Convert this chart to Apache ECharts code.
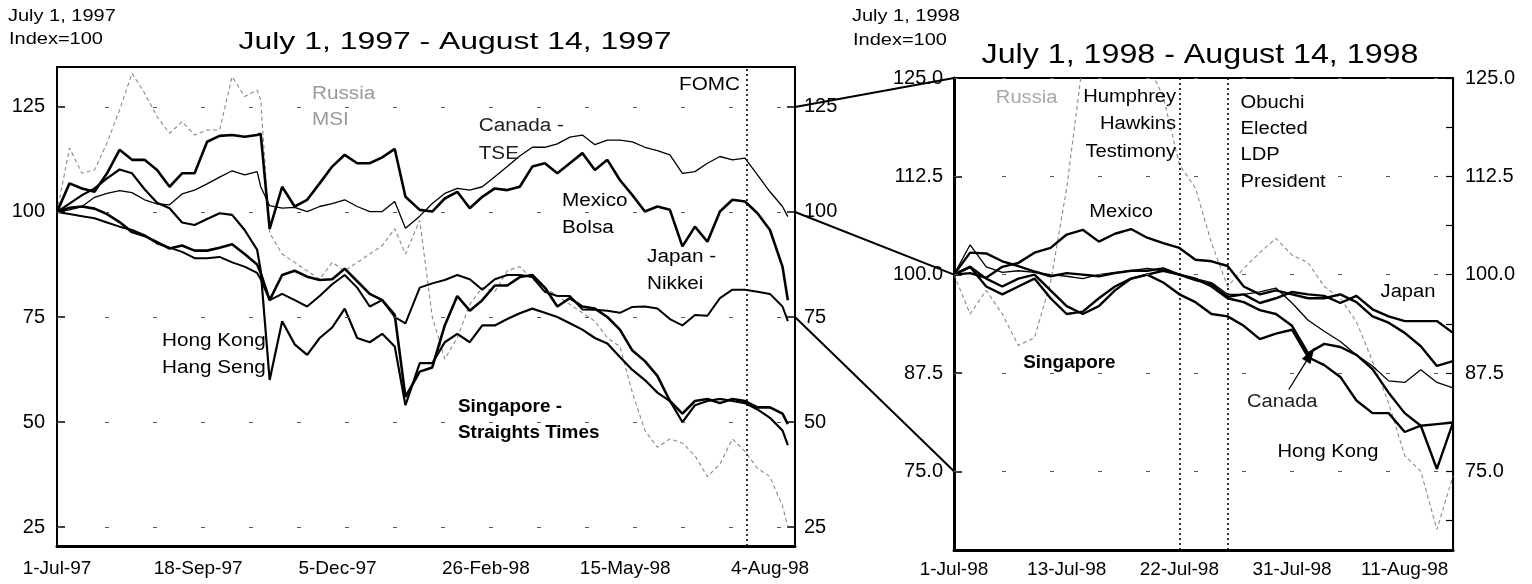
<!DOCTYPE html>
<html><head><meta charset="utf-8">
<script src="https://cdn.jsdelivr.net/npm/echarts@6/dist/echarts.min.js"></script>
<style>html,body{margin:0;padding:0;background:#fff}#c{width:1532px;height:584px}</style>
</head><body><div id="c"></div>
<script>
// ---------------- DATA ----------------
// Left panel: July 1, 1997 = 100, sampled weekly
const leftDates = ['1997-07-01','1997-07-08','1997-07-15','1997-07-22','1997-07-29','1997-08-05','1997-08-12','1997-08-19','1997-08-26','1997-09-02','1997-09-09','1997-09-16','1997-09-23','1997-09-30','1997-10-07','1997-10-14','1997-10-21','1997-10-23','1997-10-28','1997-11-04','1997-11-11','1997-11-18','1997-11-25','1997-12-02','1997-12-09','1997-12-16','1997-12-23','1997-12-30','1998-01-06','1998-01-12','1998-01-20','1998-01-27','1998-02-03','1998-02-10','1998-02-17','1998-02-24','1998-03-03','1998-03-10','1998-03-17','1998-03-24','1998-03-31','1998-04-07','1998-04-14','1998-04-21','1998-04-28','1998-05-05','1998-05-12','1998-05-19','1998-05-26','1998-06-02','1998-06-09','1998-06-16','1998-06-23','1998-06-30','1998-07-07','1998-07-14','1998-07-21','1998-07-28','1998-08-04','1998-08-11','1998-08-14'];
const mexico97 = [100,106.8,105.6,104.8,109.2,114.8,112.4,112.4,110,106,109.2,109.2,116.7,118.1,118.3,117.9,118.3,118.6,96,106,101.3,102.9,106.8,110.8,113.6,111.6,111.6,113,115,103.6,100.5,100.1,103.2,104.8,100.9,103.6,105.6,105.2,106,110.8,111.6,109.2,111.6,114,110,112.4,107.6,104,100.1,101.3,100.5,91.8,96.5,92.9,100.1,102.9,102.5,99.7,95.7,87,79];
const canada97 = [100,100.5,101.3,103.5,104.4,105.1,104.6,102.9,101.9,101.7,104.3,105.2,106.7,108.3,109.8,108.8,109.6,106,101.5,100.9,101.1,100.1,101.3,102,102.9,101.3,100.1,100.1,102.5,96.1,99,102,104.4,105.6,105.2,106,108.4,110.8,113.3,115.4,115.4,116.2,117.8,118.3,116,117.1,117.1,116.7,115.4,114.6,113.6,109.2,109.6,111.6,113.2,112.4,112.8,108.8,104.8,101.3,98.9];
const hongKong97 = [100,102,104,105.6,108,110.1,109.2,105.4,102.2,100.9,97.5,96.9,98.3,99.7,99.3,95.7,91,86,60,74,68.5,66,70,72.5,77,70,69,71,68,54,64,64,69,71,69,73,73,74.5,75.9,77,76,75,73.5,72,70,68.7,65.5,62.4,60,57,55,50,54,55,55.5,55,54.5,53,51,48,44.5];
const singapore97 = [100,101,101.3,100.8,99.5,97.6,95.2,94.3,92.8,91.3,92,90.8,90.8,91.5,92.3,90,87.5,85.5,79,85,86,84.6,83.8,84,86.5,83.5,80.5,79,75.5,56,62,63,73,80,76.5,79,82.5,82.5,84.5,85,82,77.5,79.5,77.5,77,75,72,67,64.5,61,55,52,55,55.5,54.5,55.5,55,53.5,53.5,52,49.5];
const japan97 = [100,99.5,99,98.5,97.5,96.5,95.7,94.5,92.5,91.5,90.5,89,89,89.3,88,87,85.5,84,79,80.5,79,77.5,80,82.8,85,82,77.5,79,75,73.5,82,83,83.8,85,84,81.5,84,85,85,84.5,81,80,80,76.8,76.7,76.5,76,77.4,77.5,77,74.5,73,75.5,75.3,79.5,81.5,81.5,81,80.5,77.5,74];
const russia97 = [100,115.2,109.2,110,116.4,124.3,133,128.3,122.7,118.7,121.5,118.3,119.5,119.5,132.2,127.5,129,126.7,95,90,88,86,84,88,86,88,90,92,96,90,98,75,65,70,78,82,81,86,87,84,82,80,78,76,74,70,68,57,48,44,46,45,42,37,40,46,43,39,37,30,25];
const leftTickDates = ['1997-07-01','1997-09-18','1997-12-05','1998-02-26','1998-05-15','1998-08-04'];
const leftYTicks = [25,50,75,100,125];
const fomcDate = '1998-07-22';

// Right panel: July 1, 1998 = 100, trading days
const rightDates = ['1-Jul-98','2-Jul-98','6-Jul-98','7-Jul-98','8-Jul-98','9-Jul-98','10-Jul-98','13-Jul-98','14-Jul-98','15-Jul-98','16-Jul-98','17-Jul-98','20-Jul-98','21-Jul-98','22-Jul-98','23-Jul-98','24-Jul-98','27-Jul-98','28-Jul-98','29-Jul-98','30-Jul-98','31-Jul-98','3-Aug-98','4-Aug-98','5-Aug-98','6-Aug-98','7-Aug-98','10-Aug-98','11-Aug-98','12-Aug-98','13-Aug-98','14-Aug-98'];
const russia98 = [100,95,98,95,91,92,99,111,127,130,131,130,127,122.6,114,111,104,98.5,100.8,102.8,104.6,102.5,101.5,98.5,97,94,89,83.7,77,75,67.6,74.4];
const mexico98 = [100,100.2,99.6,101,101.5,102.8,103.4,105.1,105.7,104.2,105.2,105.8,104.7,104,103.4,101.9,101.7,101.1,98.5,97.5,98,97.5,97,97,97.5,96.5,94.7,93.9,92.6,90.9,88.4,89];
const japan98 = [100,102.8,102.7,101.7,101.1,100.4,99.8,100.2,100,99.8,100.2,100.5,100.5,100.8,100,99.3,98.8,97.2,97.5,96.4,97,97.8,97.5,97.3,96.4,97.3,95.6,94.7,94.1,94.1,94.1,92.6];
const singapore98 = [100,101,98.5,97.5,98.5,99.5,97,95,95.3,97,98.5,99.5,100,100.5,100,99.5,98.5,97,96.5,95.5,95,93.5,90,91.2,90.8,89.8,88,85,82.4,80.8,81,81.2];
const canada98 = [100,103.8,101,100.3,100.5,100.3,100,99.8,99.5,100,100.3,100.5,100.8,100.5,100,99.5,99,97.5,97.5,97.8,98.3,96.4,94.2,92.8,91.5,89.8,88.4,86.5,86.3,87.9,86.3,85.6];
const hongKong98 = [100,101,99.5,98.5,99.5,100,98,96,95,96,98,99.5,100,99,97.5,96.5,95,94.7,93.5,91.8,92.5,93,89.5,88.5,87,84,82.4,82.4,80,80.8,75.3,81.2];
const rightTickDates = ['1-Jul-98','13-Jul-98','22-Jul-98','31-Jul-98','11-Aug-98'];
const rightYTicks = [75,87.5,100,112.5,125];
const rightMinorTicks = [68.75,75,81.25,87.5,93.75,100,106.25,112.5,118.75,125];
const eventDates98 = ['22-Jul-98','27-Jul-98'];

// ---------------- HELPERS ----------------
const FONT = '"Liberation Sans", Arial, Helvetica, sans-serif';
const MS = 86400000;
const MON = ['Jan','Feb','Mar','Apr','May','Jun','Jul','Aug','Sep','Oct','Nov','Dec'];
function utc(s){ const p = s.split('-').map(Number); return Date.UTC(p[0], p[1]-1, p[2]); }
const T0 = utc(leftDates[0]);
function dayOf(s){ return Math.round((utc(s) - T0) / MS); }
function fmtDay(d){ const dt = new Date(T0 + d*MS); return dt.getUTCDate() + '-' + MON[dt.getUTCMonth()] + '-' + String(dt.getUTCFullYear()).slice(2); }
function pairs(vals){ return leftDates.map((s,i)=>[dayOf(s), vals[i]]); }
const LEFT_MAX_DAY = dayOf('1998-08-18');

function lineSeries(name, data, xi, yi, width, extra){
  return Object.assign({
    name, type:'line', xAxisIndex:xi, yAxisIndex:yi, data,
    showSymbol:false, symbol:'none', silent:true, clip:true,
    emphasis:{disabled:true},
    lineStyle:{color:'#000', width:width}
  }, extra || {});
}
const dashedGray = {lineStyle:{color:'#8a8a8a', width:1.1, type:[4,3]}, z:1};
const gridLineStyle = {color:'#555', width:1, type:[4,44]};

const chart = echarts.init(document.getElementById('c'), null, {renderer:'canvas'});

const option = {
  animation:false,
  backgroundColor:'#fff',
  textStyle:{fontFamily:FONT},
  grid:[
    {left:57, top:67, width:738, height:479, show:true, borderColor:'#000', borderWidth:2, backgroundColor:'transparent', outerBoundsMode:'none', containLabel:false},
    {left:954, top:78, width:499, height:472, show:true, borderColor:'#000', borderWidth:2, backgroundColor:'transparent', outerBoundsMode:'none', containLabel:false}
  ],
  xAxis:[
    {type:'value', gridIndex:0, min:0, max:LEFT_MAX_DAY,
      axisLine:{show:true, onZero:false, lineStyle:{color:'#000', width:3}},
      axisTick:{show:false}, splitLine:{show:false},
      axisLabel:{customValues:leftTickDates.map(dayOf), formatter:fmtDay, fontSize:19, color:'#000', margin:13, fontFamily:FONT}},
    {type:'category', gridIndex:1, data:rightDates, boundaryGap:false,
      axisLine:{show:true, onZero:false, lineStyle:{color:'#000', width:3}},
      axisTick:{show:false}, splitLine:{show:false},
      axisLabel:{interval:(i,v)=>rightTickDates.indexOf(v) >= 0, fontSize:19, color:'#000', margin:10, fontFamily:FONT}}
  ],
  yAxis:[
    {type:'value', gridIndex:0, position:'left', min:20.5, max:134.5,
      axisLine:{show:true, onZero:false, lineStyle:{color:'#000', width:2}},
      axisTick:{show:true, inside:true, length:8, customValues:leftYTicks, lineStyle:{color:'#000', width:1.5}},
      axisLabel:{customValues:leftYTicks, fontSize:20, color:'#000', margin:12, fontFamily:FONT},
      splitLine:{show:false}},
    {type:'value', gridIndex:0, position:'right', min:20.5, max:134.5,
      axisLine:{show:true, onZero:false, lineStyle:{color:'#000', width:2}},
      axisTick:{show:true, inside:true, length:8, customValues:leftYTicks, lineStyle:{color:'#000', width:1.5}},
      axisLabel:{customValues:leftYTicks, fontSize:20, color:'#000', margin:9, fontFamily:FONT},
      splitLine:{show:false}},
    {type:'value', gridIndex:1, position:'left', min:65, max:125,
      axisLine:{show:true, onZero:false, lineStyle:{color:'#000', width:3}},
      axisTick:{show:true, inside:true, length:8, customValues:rightYTicks, lineStyle:{color:'#000', width:1.5}},
      axisLabel:{customValues:rightYTicks, formatter:v=>Number(v).toFixed(1), fontSize:20, color:'#000', margin:11, fontFamily:FONT},
      splitLine:{show:false}},
    {type:'value', gridIndex:1, position:'right', min:65, max:125,
      axisLine:{show:true, onZero:false, lineStyle:{color:'#000', width:1.2}},
      axisTick:{show:true, inside:true, length:7, customValues:rightMinorTicks, lineStyle:{color:'#000', width:1.2}},
      axisLabel:{customValues:rightYTicks, formatter:v=>Number(v).toFixed(1), fontSize:20, color:'#000', margin:12, fontFamily:FONT},
      splitLine:{show:false}}
  ],
  series:[
    lineSeries('Russia MSI', pairs(russia97), 0, 0, 1.1, Object.assign({}, dashedGray, {
      markLine:{symbol:'none', silent:true, label:{show:false}, lineStyle:gridLineStyle, data:leftYTicks.map(v=>({yAxis:v}))}
    })),
    lineSeries('Canada - TSE', pairs(canada97), 0, 0, 1.3, {z:2}),
    lineSeries('Japan - Nikkei', pairs(japan97), 0, 0, 2, {z:3}),
    lineSeries('Hong Kong Hang Seng', pairs(hongKong97), 0, 0, 2.2, {z:3}),
    lineSeries('Singapore - Straights Times', pairs(singapore97), 0, 0, 2.6, {z:4}),
    lineSeries('Mexico Bolsa', pairs(mexico97), 0, 0, 2.6, {z:4,
      markLine:{symbol:'none', silent:true, label:{show:false}, lineStyle:{color:'#000', width:1.6, type:[2,3]}, data:[{xAxis:dayOf(fomcDate)}]}
    }),
    lineSeries('Russia', russia98, 1, 2, 1.1, Object.assign({}, dashedGray, {
      markLine:{symbol:'none', silent:true, label:{show:false}, lineStyle:gridLineStyle, data:rightYTicks.map(v=>({yAxis:v}))}
    })),
    lineSeries('Canada', canada98, 1, 2, 1.3, {z:2}),
    lineSeries('Japan', japan98, 1, 2, 2.4, {z:3}),
    lineSeries('Singapore', singapore98, 1, 2, 2.4, {z:3}),
    lineSeries('Hong Kong', hongKong98, 1, 2, 2.4, {z:3}),
    lineSeries('Mexico', mexico98, 1, 2, 2.4, {z:4,
      markLine:{symbol:'none', silent:true, label:{show:false}, lineStyle:{color:'#000', width:1.6, type:[2,3]}, data:eventDates98.map(d=>({xAxis:d}))}
    })
  ]
};
chart.setOption(option);

// ---------------- ANNOTATIONS ----------------
function Lp(d, v){ return chart.convertToPixel({xAxisIndex:0, yAxisIndex:0}, [d, v]); }
function Rp(i, v){
  const n = rightDates.length - 1;
  const a = chart.convertToPixel({xAxisIndex:1, yAxisIndex:2}, [0, v]);
  const b = chart.convertToPixel({xAxisIndex:1, yAxisIndex:2}, [n, v]);
  return [a[0] + (b[0]-a[0]) * i / n, a[1]];
}
function txt(p, t, o){
  o = o || {};
  const al = o.al || 'left';
  return {type:'text', x:p[0], y:p[1], scaleX:o.sx || 1.15, silent:true, z:100,
    style:{text:t, fontSize:o.fs || 18, fontFamily:FONT, fontWeight:o.fw || 'normal', fill:o.c || '#000',
      align:al, textAlign:al, verticalAlign:'middle', textVerticalAlign:'middle'}};
}
const G = [];
// titles and corner notes (layout text)
G.push(txt([455, 42], 'July 1, 1997 - August 14, 1997', {fs:24, sx:1.33, al:'center'}));
G.push(txt([1200, 55], 'July 1, 1998 - August 14, 1998', {fs:28, sx:1.15, al:'center'}));
G.push(txt([8, 17], 'July 1, 1997', {fs:16, sx:1.25}));
G.push(txt([9, 40], 'Index=100', {fs:16, sx:1.25}));
G.push(txt([852, 17], 'July 1, 1998', {fs:16, sx:1.25}));
G.push(txt([853, 41], 'Index=100', {fs:16, sx:1.25}));

// left panel labels, anchored in data space (days since 1-Jul-97, index value)
const leftNotes = [
  ['Russia', 142.7, 128.1, '#9a9a9a'], ['MSI', 142.7, 121.9, '#9a9a9a'],
  ['Canada -', 236, 120.5, '#222'], ['TSE', 236, 113.8, '#222'],
  ['Mexico', 282.6, 102.6], ['Bolsa', 282.6, 96.2],
  ['Japan -', 330.2, 89.3], ['Nikkei', 330.2, 82.9],
  ['Hong Kong', 58.8, 69.3], ['Hang Seng', 58.8, 62.9],
  ['Singapore -', 224.4, 53.6, '#000', 'bold'], ['Straights Times', 224.4, 47.4, '#000', 'bold']
];
leftNotes.forEach(n => G.push(txt(Lp(n[1], n[2]), n[0], {c:n[3], fw:n[4], sx:n[4] ? 1.05 : 1.15})));
G.push(txt(Lp(382.2, 130.2), 'FOMC', {al:'right'}));

// right panel labels (trading-day index, index value)
const rightNotes = [
  ['Russia', 2.6, 122.5, 'left', '#a8a8a8'],
  ['Humphrey', 13.8, 122.6, 'right'], ['Hawkins', 13.8, 119.1, 'right'], ['Testimony', 13.8, 115.6, 'right'],
  ['Obuchi', 17.8, 121.8, 'left'], ['Elected', 17.8, 118.5, 'left'], ['LDP', 17.8, 115.2, 'left'], ['President', 17.8, 111.8, 'left'],
  ['Mexico', 8.4, 108, 'left'], ['Japan', 26.5, 97.8, 'left'],
  ['Singapore', 4.3, 88.8, 'left', '#000', 'bold'],
  ['Canada', 18.2, 83.8, 'left', '#222'], ['Hong Kong', 20.1, 77.4, 'left']
];
rightNotes.forEach(n => G.push(txt(Rp(n[1], n[2]), n[0], {al:n[3], c:n[4], fw:n[5], sx:n[5] ? 1.05 : 1.12})));

// Canada arrow
const tail = Rp(20.8, 85.4), tip = Rp(22.4, 90.7);
G.push({type:'line', silent:true, z:100, shape:{x1:tail[0], y1:tail[1], x2:tip[0], y2:tip[1]}, style:{stroke:'#000', lineWidth:1.3}});
(function(){
  const dx = tip[0]-tail[0], dy = tip[1]-tail[1], L = Math.hypot(dx, dy), ux = dx/L, uy = dy/L;
  const bx = tip[0] - ux*16, by = tip[1] - uy*16;
  G.push({type:'polygon', silent:true, z:100, shape:{points:[tip, [bx - uy*5, by + ux*5], [bx + uy*5, by - ux*5]]}, style:{fill:'#000'}});
})();

// connecting zoom lines between panels
[125, 100, 75].forEach(v => {
  const a = Lp(LEFT_MAX_DAY, v), b = Rp(0, v);
  G.push({type:'line', silent:true, z:90, shape:{x1:a[0], y1:a[1], x2:b[0], y2:b[1]}, style:{stroke:'#000', lineWidth:2}});
});

chart.setOption({graphic:{elements:G}});
</script>
</body></html>
